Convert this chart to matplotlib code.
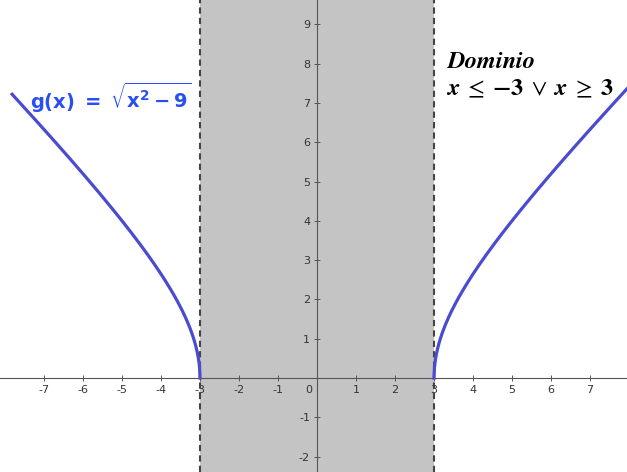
import numpy as np
import matplotlib.pyplot as plt

plt.rcParams['axes.unicode_minus'] = False

x_ticks = [-7, -6, -5, -4, -3, -2, -1, 1, 2, 3, 4, 5, 6, 7]
y_ticks = [-2, -1, 1, 2, 3, 4, 5, 6, 7, 8, 9]
dom_left, dom_right = -3, 3
a2 = 9

x_min, x_max = -8.13, 7.95
y_min, y_max = -2.39, 9.62
curve_left_end = -7.82

fig = plt.figure(figsize=(6.27, 4.72), dpi=100)
ax = fig.add_axes([0, 0, 1, 1])
ax.set_xlim(x_min, x_max)
ax.set_ylim(y_min, y_max)

# gray region (not in the domain)
ax.axvspan(dom_left, dom_right, color='#c4c4c4', zorder=0, lw=0)
ax.axvline(dom_left, color='#444444', ls=(0, (3, 2)), lw=1.5, zorder=3)
ax.axvline(dom_right, color='#444444', ls=(0, (3, 2)), lw=1.5, zorder=3)

# axes through origin
for s in ['top', 'right']:
    ax.spines[s].set_visible(False)
ax.spines['left'].set_position(('data', 0))
ax.spines['bottom'].set_position(('data', 0))
ax.spines['left'].set_color('#555555')
ax.spines['bottom'].set_color('#555555')
ax.spines['left'].set_linewidth(0.8)
ax.spines['bottom'].set_linewidth(0.8)
ax.set_xticks(x_ticks)
ax.set_yticks(y_ticks)
ax.tick_params(direction='inout', length=4, width=0.7, color='#555555',
               labelsize=8, labelcolor='#333333', pad=3)
ax.text(-0.22, -0.18, '0', fontsize=8, color='#333333', ha='center', va='top')

# g(x) = sqrt(x^2 - 9)
xl = np.linspace(curve_left_end, -3, 400)
xr = np.linspace(3, x_max, 400)
ax.plot(xl, np.sqrt(np.clip(xl**2 - a2, 0, None)), color='#4b4bcf', lw=2.3, zorder=4)
ax.plot(xr, np.sqrt(np.clip(xr**2 - a2, 0, None)), color='#4b4bcf', lw=2.3, zorder=4)

ax.text(-7.36, 7.12, r'$\mathbf{g(x)\ =\ \sqrt{x^2-9}}$', color='#2a4ff0',
        fontsize=14, math_fontfamily='dejavusans', va='center', ha='left', zorder=5)

ax.text(3.3, 8.07, r'$\mathbfit{Dominio}$', fontsize=17.5, math_fontfamily='stix',
        va='center', ha='left', color='black')
ax.text(3.3, 7.38, r'$\mathbfit{x}\;\leq\;\mathbf{-3}\;\vee\;\mathbfit{x}\;\geq\;\mathbf{3}$',
        fontsize=17.5, math_fontfamily='stix', va='center', ha='left', color='black')

fig.savefig('out.png', dpi=100)
